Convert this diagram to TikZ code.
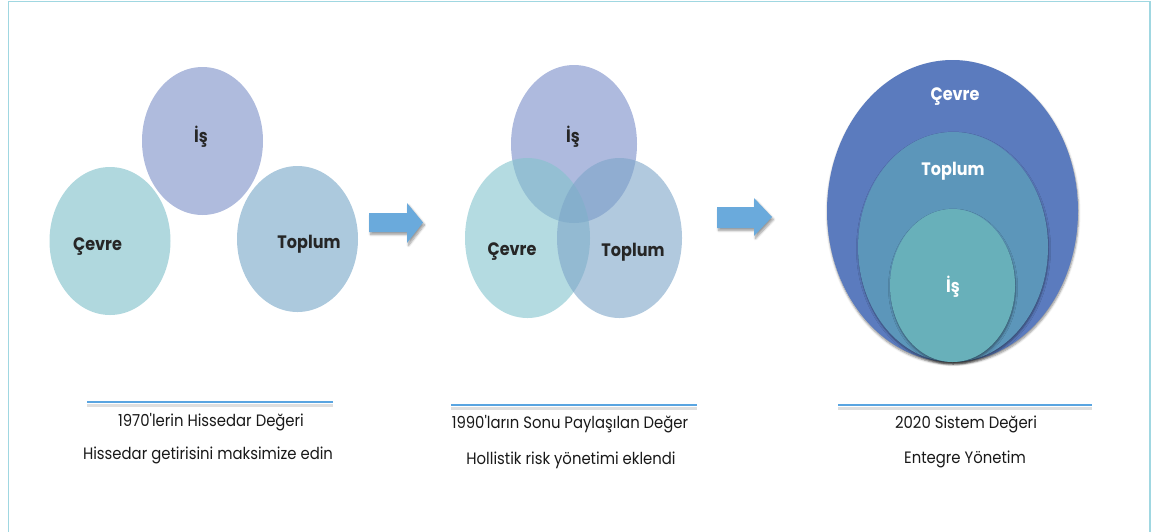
\documentclass[tikz,border=0pt]{standalone}
\usepackage{fontspec}
\setmainfont{Poppins}
\newfontfamily\capfont{Poppins}[FakeStretch=0.9]
\newfontfamily\labfont{Poppins}[FakeStretch=0.89]
\usetikzlibrary{shapes.geometric,shadows.blur}
\definecolor{frameC}{RGB}{160,215,225}
\definecolor{isC}{RGB}{175,187,221}
\definecolor{cevreC}{RGB}{176,216,222}
\definecolor{toplumC}{RGB}{172,201,221}
\definecolor{isT}{RGB}{120,140,200}
\definecolor{cevreT}{RGB}{130,195,205}
\definecolor{toplumT}{RGB}{125,165,200}
\definecolor{outerC}{RGB}{91,123,190}
\definecolor{middleC}{RGB}{92,150,186}
\definecolor{innerC}{RGB}{104,176,186}
\definecolor{arrowC}{RGB}{106,170,220}
\definecolor{ruleC}{RGB}{90,165,225}
\tikzset{
  blob/.style={ellipse, draw=none, inner sep=0pt},
  lab/.style={font=\labfont\fontsize{18}{18}\selectfont\bfseries, text=black!85, inner sep=0pt},
  wlab/.style={font=\labfont\fontsize{18}{18}\selectfont\bfseries, text=white, inner sep=0pt},
  captext/.style={font=\capfont\fontsize{16.5}{16.5}\selectfont, text=black!90, inner sep=0pt},
  rulestyle/.style={draw=ruleC, line width=1.6pt},
  ruleshadow/.style={draw=black!25, line width=3pt, opacity=0.5},
  bigarrow/.style={fill=arrowC, blur shadow={shadow xshift=1.5pt, shadow yshift=-2.5pt, shadow blur steps=6, shadow opacity=40}},
  nested/.style={blob, blur shadow={shadow xshift=0.5pt, shadow yshift=-2pt, shadow blur steps=5, shadow opacity=45}}
}
\begin{document}
\begin{tikzpicture}[x=1pt,y=-1pt]
\useasboundingbox (0,0) rectangle (1153,531);
\clip (0,0) rectangle (1153,531);
% frame
\draw[frameC, line width=1.2pt] (8.5,560) -- (8.5,1.5) -- (1150,1.5) -- (1150,560);

% ---- 1970s: three separate spheres
\node[blob, fill=isC, minimum width=121pt, minimum height=148pt] (a-is) at (202.5,141) {};
\node[blob, fill=cevreC, minimum width=121pt, minimum height=148pt] (a-cevre) at (110,241) {};
\node[blob, fill=toplumC, minimum width=121pt, minimum height=146pt] (a-toplum) at (297.5,239) {};
\node[lab] (a-is-t) at (201,137) {İş};
\node[lab] (a-cevre-t) at (97.5,247) {Çevre};
\node[lab] (a-toplum-t) at (309,244) {Toplum};

% ---- 1990s: overlapping spheres
\begin{scope}[fill opacity=0.6]
\node[blob, fill=isT, minimum width=126pt, minimum height=158pt] (b-is) at (574,144) {};
\node[blob, fill=cevreT, minimum width=125pt, minimum height=160pt] (b-cevre) at (527.5,238) {};
\node[blob, fill=toplumT, minimum width=125pt, minimum height=160pt] (b-toplum) at (619.5,238) {};
\end{scope}
\node[lab] (b-is-t) at (573,137) {İş};
\node[lab] (b-cevre-t) at (512,252) {Çevre};
\node[lab] (b-toplum-t) at (633,252) {Toplum};

% ---- 2020: nested spheres
\node[nested, fill=outerC, minimum width=251pt, minimum height=302pt] (c-outer) at (952.5,211) {};
\node[nested, fill=middleC, minimum width=190pt, minimum height=230pt] (c-middle) at (953,247) {};
\node[nested, fill=innerC, minimum width=125pt, minimum height=153pt] (c-inner) at (952.5,285.5) {};
\node[wlab] (c-outer-t) at (955,97) {Çevre};
\node[wlab] (c-middle-t) at (953,171) {Toplum};
\node[wlab] (c-inner-t) at (953,287) {İş};

% ---- transition arrows
\path[bigarrow] (369,213) -- (407,213) -- (407,203) -- (423,222.5) -- (407,243) -- (407,232) -- (369,232) -- cycle;
\path[bigarrow] (717,207) -- (754,207) -- (754,198) -- (772,217) -- (754,236) -- (754,228) -- (717,228) -- cycle;

% ---- captions
\coordinate (r1a) at (87,402); \coordinate (r1b) at (333,402);
\coordinate (r2a) at (451,405); \coordinate (r2b) at (697,405);
\coordinate (r3a) at (838,405); \coordinate (r3b) at (1092,405);
\draw[ruleshadow] ([yshift=-3pt]r1a) -- ([yshift=-3pt]r1b);
\draw[ruleshadow] ([yshift=-3pt]r2a) -- ([yshift=-3pt]r2b);
\draw[ruleshadow] ([yshift=-3pt]r3a) -- ([yshift=-3pt]r3b);
\draw[rulestyle] (r1a) -- (r1b);
\draw[rulestyle] (r2a) -- (r2b);
\draw[rulestyle] (r3a) -- (r3b);

\node[captext] (t1a) at (211,422) {1970'lerin Hissedar Değeri};
\node[captext] (t1b) at (208,455) {Hissedar getirisini maksimize edin};
\node[captext] (t2a) at (570,424) {1990'ların Sonu Paylaşılan Değer};
\node[captext] (t2b) at (571,460) {Hollistik risk yönetimi eklendi};
\node[captext] (t3a) at (966,424) {2020 Sistem Değeri};
\node[captext] (t3b) at (965,459) {Entegre Yönetim};
\end{tikzpicture}
\end{document}
